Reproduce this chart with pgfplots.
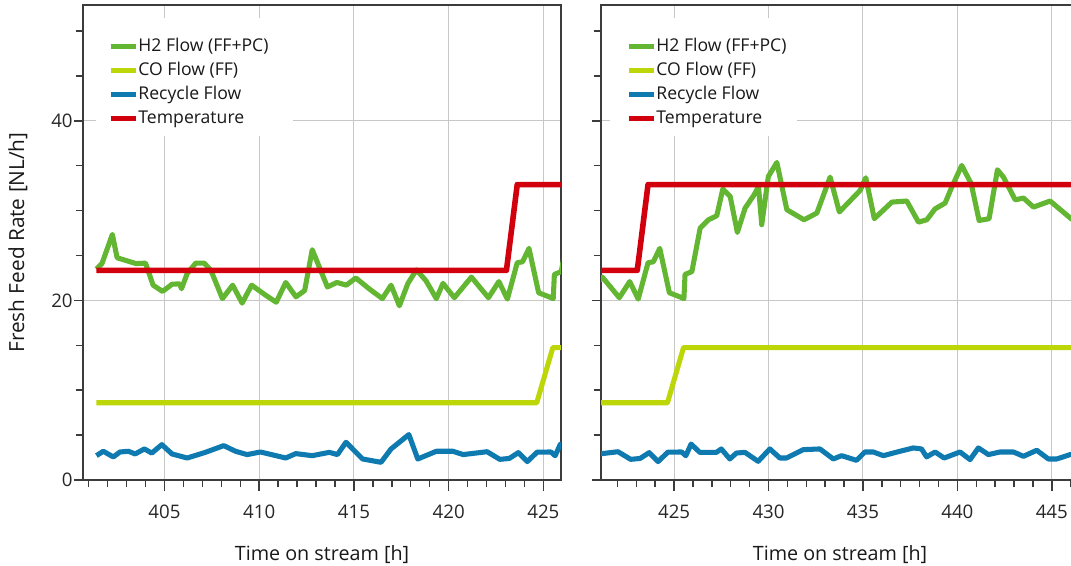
\documentclass[border=0pt]{standalone}
\usepackage{fontspec}
\setmainfont{Open Sans}
\usepackage{pgfplots}
\usepackage{pgfplotstable}
\pgfplotsset{compat=1.18}
\definecolor{htwo}{RGB}{98,182,50}
\definecolor{coflow}{RGB}{188,214,8}
\definecolor{recyc}{RGB}{14,122,176}
\definecolor{tempr}{RGB}{210,0,12}
\definecolor{frame}{RGB}{60,60,60}

\pgfplotstableread{
x y
401.41 23.5
401.7 24.1
402.25 27.35
402.5 24.75
402.96 24.45
403.5 24.1
404.0 24.15
404.4 21.7
404.9 21.0
405.4 21.8
405.8 21.85
405.9 21.3
406.2 23.0
406.65 24.15
407.1 24.15
407.45 23.35
408.06 20.2
408.6 21.7
409.1 19.7
409.6 21.7
410.26 20.7
410.9 19.8
411.4 22.0
411.94 20.4
412.4 21.1
412.8 25.65
413.6 21.5
414.1 22.0
414.6 21.7
415.1 22.5
415.8 21.3
416.5 20.2
416.96 21.7
417.4 19.4
417.85 21.9
418.3 23.4
418.8 22.2
419.35 20.2
419.7 21.9
420.3 20.3
421.2 22.6
422.1 20.3
422.65 22.1
423.1 20.15
423.62 24.2
423.9 24.3
424.24 25.8
424.75 20.85
425.3 20.4
425.52 20.2
425.58 22.9
425.94 23.2
426.38 28.05
426.82 28.98
427.26 29.43
427.58 32.4
427.97 31.58
428.35 27.57
428.76 30.28
429.24 31.77
429.47 32.7
429.64 28.43
429.99 33.8
430.44 35.37
430.97 30.1
431.88 28.98
432.56 29.73
433.26 33.73
433.75 29.85
434.85 32.25
435.15 33.66
435.6 29.1
436.53 30.95
437.32 31.07
437.94 28.72
438.38 28.98
438.82 30.2
439.35 30.84
439.7 32.6
440.23 35.03
440.73 33.0
441.15 28.9
441.68 29.1
442.12 34.55
442.44 33.73
443.06 31.2
443.5 31.4
444.03 30.39
444.91 31.07
446.02 29.1
446.5 28.5
}\htwotab

\pgfplotstableread{
x y
401.41 8.6
424.65 8.6
425.5 14.75
446.5 14.75
}\cotab

\pgfplotstableread{
x y
401.41 2.71
401.77 3.2
402.3 2.57
402.65 3.12
403.1 3.2
403.45 2.9
403.94 3.46
404.33 3.0
404.86 3.94
405.4 2.9
406.2 2.45
407.16 3.08
408.13 3.83
408.75 3.2
409.36 2.83
410.07 3.12
411.4 2.45
411.93 2.94
412.8 2.71
413.7 3.08
414.13 2.83
414.58 4.2
415.46 2.34
416.43 1.97
416.96 3.46
417.9 5.06
418.37 2.34
419.35 3.2
420.23 3.2
420.76 2.83
422.03 3.15
422.7 2.3
423.2 2.4
423.68 3.05
424.15 2.05
424.67 3.1
425.4 3.12
425.62 2.7
425.9 4.0
426.36 3.08
427.24 3.08
427.5 3.46
427.95 2.34
428.3 3.0
428.75 3.08
429.45 2.08
430.07 3.46
430.6 2.45
430.95 2.45
431.84 3.38
432.72 3.46
433.43 2.34
433.87 2.71
434.66 2.19
435.1 3.12
435.55 3.12
436.08 2.71
436.96 3.2
437.67 3.57
438.1 3.46
438.37 2.57
438.82 3.12
439.3 2.45
440.14 3.12
440.67 2.27
441.11 3.57
441.64 2.83
442.26 3.12
442.97 3.12
443.5 2.64
444.2 3.31
444.82 2.34
445.26 2.34
445.97 2.83
446.5 2.9
}\recyctab

\pgfplotstableread{
x y
401.41 23.35
423.05 23.35
423.62 32.9
446.5 32.9
}\temptab

\pgfplotsset{
  panel/.style={
    scale only axis, width=358.5pt, height=356.25pt, anchor=south west,
    ymin=0, ymax=52.9,
    ytick={0,20,40},
    minor ytick={5,10,15,25,30,35,45,50},
    xtick={400,405,...,450},
    minor xtick={401,402,403,404,406,407,408,409,411,412,413,414,416,417,418,419,421,422,423,424,426,427,428,429,431,432,433,434,436,437,438,439,441,442,443,444,446},
    xtick pos=left, ytick pos=left,
    tick align=outside,
    grid=major,
    major grid style={draw=black!22, line width=0.75pt},
    axis line style={draw=frame, line width=1.1pt},
    xtick style={draw=frame, line width=1.1pt, /pgfplots/major tick length=8.5pt, /pgfplots/minor tick length=5.5pt},
    ytick style={draw=frame, line width=1.1pt, /pgfplots/major tick length=6.5pt, /pgfplots/minor tick length=5.5pt},
    /pgf/number format/assume math mode=true,
    /pgf/number format/1000 sep={},
    ticklabel style={font=\fontsize{14}{16}\selectfont, text=black!85},
    xticklabel style={yshift=-11pt},
    xlabel={Time on stream [h]},
    xlabel style={at={(axis description cs:0.5,-0.158)}, anchor=center, font=\fontsize{14.8}{17}\selectfont, text=black!90},
    legend cell align=left,
    legend style={at={(axis description cs:0.052,0.938)}, anchor=north west,
      draw=none, fill=none, inner sep=0pt, row sep=0pt,
      font=\fontsize{13.2}{15}\selectfont,
      nodes={inner sep=0pt, text height=12.5pt, text depth=5.5pt, text=black!90}},
    legend image code/.code={\draw[#1, line width=4pt] (0pt,0pt) -- (18.75pt,0pt);},
    every axis plot/.append style={line join=round},
  }
}

\begin{document}
\begin{tikzpicture}
\useasboundingbox (0,0) rectangle (803.25pt,423.75pt);
\clip (0,0) rectangle (803.25pt,423.75pt);
\begin{axis}[panel, at={(62.25pt,63.75pt)}, xmin=400.7, xmax=425.93,
  ylabel={Fresh Feed Rate [NL/h]},
  ylabel style={at={(axis description cs:-0.136,0.5)}, anchor=center, font=\fontsize{15.6}{18}\selectfont, text=black!90}]
  \fill[white] (axis description cs:0.027,0.973) rectangle (axis description cs:0.44,0.724);
  \addplot[htwo, line width=3.8pt] table {\htwotab};
  \addplot[coflow, line width=3.8pt] table {\cotab};
  \addplot[recyc, line width=3.8pt] table {\recyctab};
  \addplot[tempr, line width=4.2pt] table {\temptab};
  \legend{H2 Flow (FF+PC), CO Flow (FF), Recycle Flow, Temperature}
\end{axis}
\begin{axis}[panel, at={(450.75pt,63.75pt)}, xmin=421.13, xmax=446.44,
  yticklabels={}]
  \fill[white] (axis description cs:0.019,0.973) rectangle (axis description cs:0.41,0.724);
  \addplot[htwo, line width=3.8pt] table {\htwotab};
  \addplot[coflow, line width=3.8pt] table {\cotab};
  \addplot[recyc, line width=3.8pt] table {\recyctab};
  \addplot[tempr, line width=4.2pt] table {\temptab};
  \legend{H2 Flow (FF+PC), CO Flow (FF), Recycle Flow, Temperature}
\end{axis}
\end{tikzpicture}
\end{document}
